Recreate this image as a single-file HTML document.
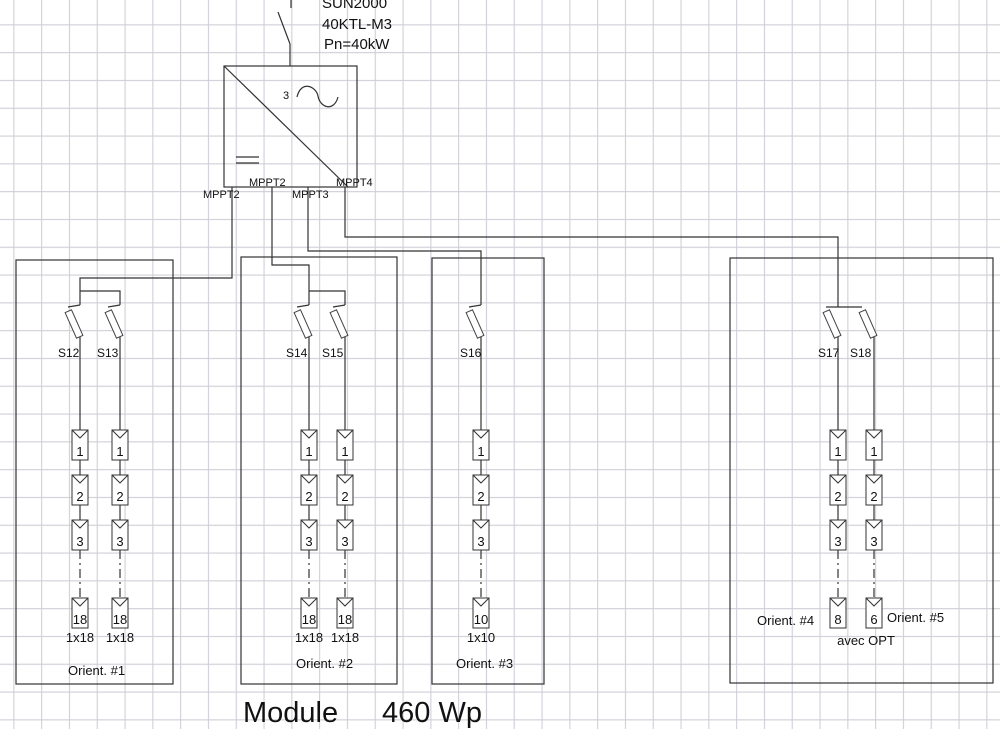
<!DOCTYPE html>
<html><head><meta charset="utf-8"><style>
html,body{margin:0;padding:0;background:#fff}
svg{display:block}
text{font-family:"Liberation Sans",sans-serif;fill:#111}
</style></head><body>
<svg width="1000" height="729" viewBox="0 0 1000 729" xmlns="http://www.w3.org/2000/svg">
<defs>
<pattern id="g" patternUnits="userSpaceOnUse" x="13.3" y="24.3" width="27.8" height="27.8">
<path d="M0.5 0V27.8M0 0.5H27.8" stroke="#cfcfd8" stroke-width="1.2" fill="none"/>
</pattern>
<g id="m"><rect x="-8" y="0" width="16" height="30" fill="#fff" stroke="#333" stroke-width="1"/><polyline points="-8,0 0,8 8,0" fill="none" stroke="#333" stroke-width="1"/></g>
<g id="st" stroke="#333" stroke-width="1.2" fill="none">
<line x1="0" y1="337" x2="0" y2="430"/>
<line x1="0" y1="460" x2="0" y2="475"/>
<line x1="0" y1="505" x2="0" y2="520"/>
<line x1="0" y1="550" x2="0" y2="598" stroke-dasharray="9 4 2 4"/>
<use href="#m" y="430"/><use href="#m" y="475"/><use href="#m" y="520"/><use href="#m" y="598"/>
</g>
<g id="sw" stroke="#333" stroke-width="1.2" fill="none">
<line x1="-12" y1="307" x2="0" y2="305"/>
<rect x="-3.5" y="-14" width="7" height="28" transform="translate(-6,324) rotate(-24)" fill="#fff" stroke="#444" stroke-width="1"/>
</g>
<g id="sw2" stroke="#333" stroke-width="1.2" fill="none">
<rect x="-3.5" y="-14" width="7" height="28" transform="translate(-6,324) rotate(-24)" fill="#fff" stroke="#444" stroke-width="1"/>
</g>
</defs>
<rect width="1000" height="729" fill="url(#g)"/>

<g stroke="#333" stroke-width="1.2" fill="none">
<line x1="291" y1="0" x2="291" y2="8"/>
<line x1="278" y1="12" x2="290" y2="44"/>
<line x1="290" y1="44" x2="290" y2="66"/>
<rect x="224" y="66" width="133" height="121"/>
<line x1="224" y1="66" x2="348" y2="187"/>
<path d="M297 97 C301 80 316 86 318 96 C320 108 334 112 338 97"/>
<line x1="236" y1="157" x2="259" y2="157"/>
<line x1="236" y1="163" x2="259" y2="163"/>
<polyline points="232,187 232,278 80,278 80,305"/>
<polyline points="80,291 120,291 120,305"/>
<polyline points="272,187 272,265 309,265 309,305"/>
<polyline points="309,291 345,291 345,305"/>
<polyline points="308,187 308,251 481,251 481,305"/>
<polyline points="345,187 345,237 838,237 838,307"/>
<polyline points="826,307 862,307"/>
<rect x="16" y="260" width="157" height="424"/>
<rect x="241" y="257" width="156" height="427"/>
<rect x="432" y="258" width="112" height="426"/>
<rect x="730" y="258" width="263" height="425"/>
</g>

<use href="#sw" x="80"/><use href="#sw" x="120"/><use href="#sw" x="309"/><use href="#sw" x="345"/><use href="#sw" x="481"/><use href="#sw2" x="838"/><use href="#sw2" x="874"/>
<use href="#st" x="80"/><use href="#st" x="120"/><use href="#st" x="309"/><use href="#st" x="345"/><use href="#st" x="481"/><use href="#st" x="838"/><use href="#st" x="874"/>

<g font-size="15">
<text x="322" y="8">SUN2000</text>
<text x="322" y="29">40KTL-M3</text>
<text x="324" y="49">Pn=40kW</text>
</g>
<text x="283" y="99" font-size="11">3</text>
<g font-size="11">
<text x="203" y="198">MPPT2</text>
<text x="249" y="186">MPPT2</text>
<text x="292" y="198">MPPT3</text>
<text x="336" y="186">MPPT4</text>
</g>
<g font-size="12">
<text x="58" y="357">S12</text><text x="97" y="357">S13</text>
<text x="286" y="357">S14</text><text x="322" y="357">S15</text>
<text x="460" y="357">S16</text>
<text x="818" y="357">S17</text><text x="850" y="357">S18</text>
</g>
<g font-size="13" text-anchor="middle">
<text x="80" y="456">1</text><text x="80" y="501">2</text><text x="80" y="546">3</text><text x="80" y="624">18</text>
<text x="120" y="456">1</text><text x="120" y="501">2</text><text x="120" y="546">3</text><text x="120" y="624">18</text>
<text x="309" y="456">1</text><text x="309" y="501">2</text><text x="309" y="546">3</text><text x="309" y="624">18</text>
<text x="345" y="456">1</text><text x="345" y="501">2</text><text x="345" y="546">3</text><text x="345" y="624">18</text>
<text x="481" y="456">1</text><text x="481" y="501">2</text><text x="481" y="546">3</text><text x="481" y="624">10</text>
<text x="838" y="456">1</text><text x="838" y="501">2</text><text x="838" y="546">3</text><text x="838" y="624">8</text>
<text x="874" y="456">1</text><text x="874" y="501">2</text><text x="874" y="546">3</text><text x="874" y="624">6</text>
<text x="80" y="642">1x18</text><text x="120" y="642">1x18</text>
<text x="309" y="642">1x18</text><text x="345" y="642">1x18</text>
<text x="481" y="642">1x10</text>
<text x="866" y="645">avec OPT</text>
</g>
<g font-size="13">
<text x="68" y="675">Orient. #1</text>
<text x="296" y="668">Orient. #2</text>
<text x="456" y="668">Orient. #3</text>
<text x="757" y="625">Orient. #4</text>
<text x="887" y="622">Orient. #5</text>
</g>
<text x="243" y="722" font-size="29">Module</text>
<text x="382" y="722" font-size="29">460 Wp</text>
</svg>
</body></html>
